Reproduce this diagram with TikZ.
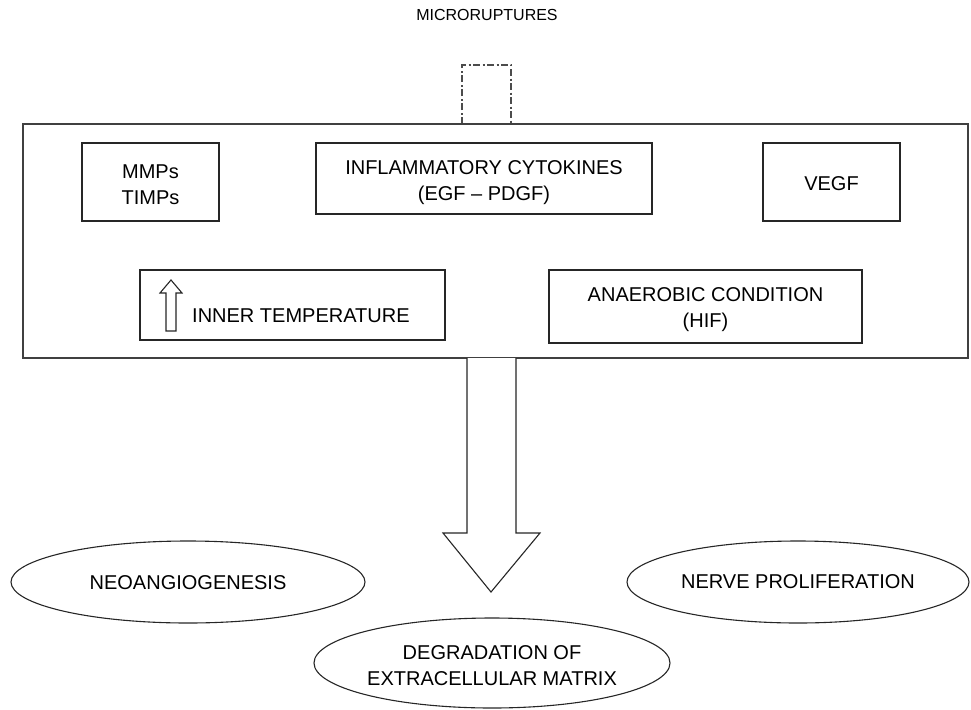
\documentclass[tikz,border=0pt]{standalone}
\usepackage{fontspec}
\setmainfont{Liberation Sans}
\usetikzlibrary{shapes.geometric}
\tikzset{
  box/.style={draw=black!85, line width=1.1pt, rectangle, inner sep=0pt},
  oval/.style={draw=black!85, line width=1.1pt, ellipse, inner sep=0pt},
  lbl/.style={inner sep=0pt, align=center, font=\fontsize{20}{26}\selectfont},
  outer/.style={draw=black!75, line width=1.6pt, rectangle, inner sep=0pt},
  dashdot/.style={draw=black!70, line width=1.4pt, dash pattern=on 7pt off 2.5pt on 2pt off 2.5pt},
  arrowshape/.style={draw=black!85, line width=1.1pt, fill=white, line join=miter}
}
\begin{document}
\begin{tikzpicture}[x=1pt,y=-1pt]
\useasboundingbox (0,0) rectangle (971,709);

\node[lbl, font=\fontsize{16}{20}\selectfont] (title) at (487,15) {MICRORUPTURES};

% dash-dot stub
\coordinate (dl) at (462,124);
\coordinate (dr) at (511,124);
\draw[dashdot] (dl) -- (462,65) -- (511,65) -- (dr);

% outer box
\node[outer, minimum width=945pt, minimum height=234pt] (big) at (495.5,241) {};

% inner boxes
\node[box, minimum width=137pt, minimum height=78pt] (mmp) at (150.5,182) {};
\node[lbl] (mmptext) at (150.5,184.5) {MMPs\\TIMPs};
\node[box, minimum width=336pt, minimum height=71pt] (infl) at (484,178.5) {};
\node[lbl] (infltext) at (484,182.5) {INFLAMMATORY CYTOKINES\\(EGF -- PDGF)};
\node[box, minimum width=137pt, minimum height=78pt] (vegf) at (831.5,182) {};
\node[lbl] (vegftext) at (831.5,184) {VEGF};
\node[box, minimum width=305pt, minimum height=70pt] (inner) at (292.5,305) {};
\node[lbl, anchor=west] (innertext) at (192,316) {INNER TEMPERATURE};
\node[box, minimum width=313pt, minimum height=73pt] (anaer) at (705.5,306.5) {};
\node[lbl] (anaertext) at (705.5,309.5) {ANAEROBIC CONDITION\\(HIF)};

% small up arrow
\draw[arrowshape] (166,331) -- (166,293) -- (160,293) -- (171,280) -- (182,293) -- (176,293) -- (176,331) -- cycle;

% big down arrow
\draw[arrowshape] (467,358) -- (467,533) -- (443,533) -- (491,592) -- (540,533) -- (516,533) -- (516,358);

% ellipses
\node[oval, minimum width=354pt, minimum height=82pt] (neo) at (188,582) {};
\node[lbl] (neotext) at (188,582.5) {NEOANGIOGENESIS};
\node[oval, minimum width=342pt, minimum height=82pt] (nerve) at (798,582) {};
\node[lbl] (nervetext) at (798,582) {NERVE PROLIFERATION};
\node[oval, minimum width=356pt, minimum height=90pt] (degr) at (492,663) {};
\node[lbl] (degrtext) at (492,666) {DEGRADATION OF\\EXTRACELLULAR MATRIX};
\end{tikzpicture}
\end{document}
